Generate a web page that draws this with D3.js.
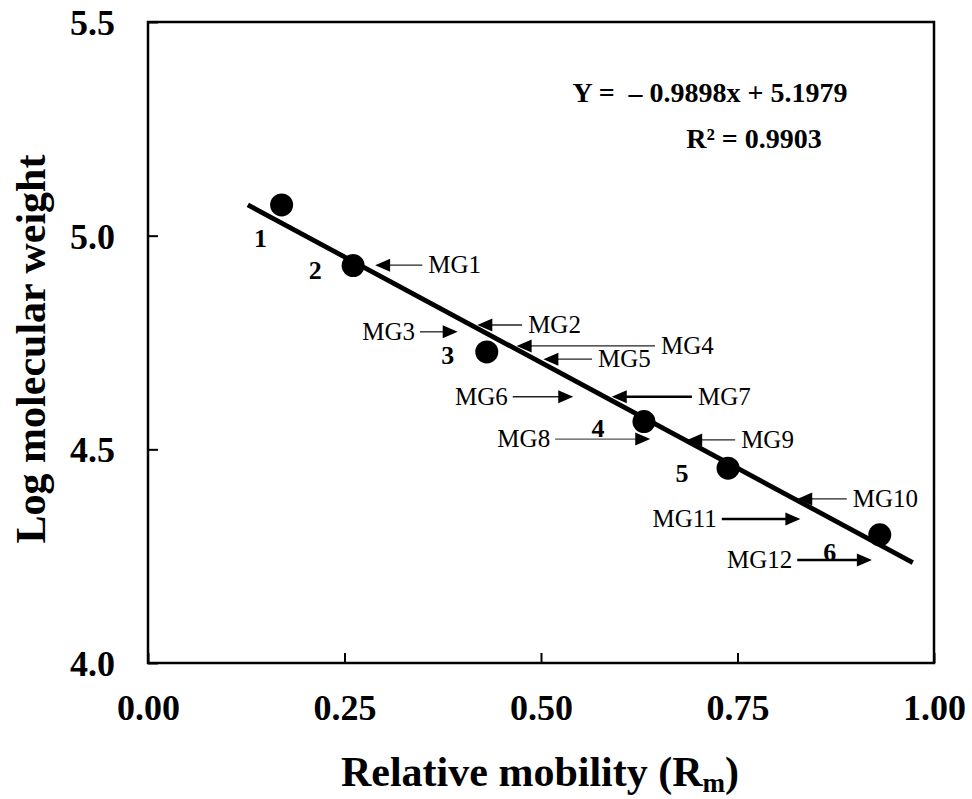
<!DOCTYPE html>
<html>
<head>
<meta charset="utf-8">
<script src="https://cdn.jsdelivr.net/npm/d3@7"></script>
<style>
  html, body { margin: 0; padding: 0; background: #fff; }
  svg { display: block; font-family: "Liberation Serif", "Times New Roman", serif; }
</style>
</head>
<body>
<svg id="chart" width="972" height="799"></svg>
<script>
// ---- data ----
const standardIds = ["1", "2", "3", "4", "5", "6"];
const standardRm = [0.17, 0.261, 0.431, 0.631, 0.738, 0.931];
const standardLogMW = [5.072, 4.930, 4.728, 4.565, 4.456, 4.300];

const fitLineRm = [0.127, 0.973];
const fitLineLogMW = [5.072, 4.235];
const equationText = "Y =  \u2013 0.9898x + 5.1979";
const r2Text = "R\u00B2 = 0.9903";

const mgLabels = ["MG1", "MG2", "MG3", "MG4", "MG5", "MG6", "MG7", "MG8", "MG9", "MG10", "MG11", "MG12"];
const mgTipRm = [0.289, 0.419, 0.394, 0.469, 0.503, 0.541, 0.590, 0.639, 0.686, 0.826, 0.830, 0.921];
const mgTailRm = [0.349, 0.476, 0.346, 0.645, 0.565, 0.464, 0.692, 0.518, 0.747, 0.889, 0.730, 0.826];
const mgLogMW = [4.931, 4.791, 4.775, 4.742, 4.711, 4.623, 4.623, 4.524, 4.522, 4.384, 4.337, 4.241];

const xTicks = [0.00, 0.25, 0.50, 0.75, 1.00];
const yTicks = [4.0, 4.5, 5.0, 5.5];

// ---- layout ----
const svg = d3.select("#chart");
const L = 148, R = 934, T = 22, B = 663;
const x = d3.scaleLinear().domain([0, 1]).range([L, R]);
const y = d3.scaleLinear().domain([4.0, 5.5]).range([B, T]);

// styling (kept out of data)
const thickArrows = new Set(["MG7", "MG11", "MG12"]);
const labelOffsets = [[-21, 33], [-38, 4], [-39, 3], [-46, 6], [-46, 5], [-50, 17]];

// axes (ticks pointing inward)
const xAxis = svg.append("g").attr("transform", `translate(0,${B})`)
  .call(d3.axisBottom(x).tickValues(xTicks).tickSizeInner(-10).tickSizeOuter(0).tickFormat(d3.format(".2f")));
xAxis.select(".domain").remove();
xAxis.selectAll(".tick line").attr("stroke", "#000").attr("stroke-width", 2);
xAxis.selectAll(".tick text")
  .attr("y", 57).attr("dy", 0)
  .attr("font-family", "Liberation Serif, serif")
  .attr("font-size", 36).attr("font-weight", "bold").attr("fill", "#000");

const yAxis = svg.append("g").attr("transform", `translate(${L},0)`)
  .call(d3.axisLeft(y).tickValues(yTicks).tickSizeInner(-10).tickSizeOuter(0).tickFormat(d3.format(".1f")));
yAxis.select(".domain").remove();
yAxis.selectAll(".tick line").attr("stroke", "#000").attr("stroke-width", 2);
yAxis.selectAll(".tick text")
  .attr("x", -33).attr("dy", "0.35em")
  .attr("font-family", "Liberation Serif, serif")
  .attr("font-size", 36).attr("font-weight", "bold").attr("fill", "#000");

// frame
svg.append("rect")
  .attr("x", L).attr("y", T).attr("width", R - L).attr("height", B - T)
  .attr("fill", "none").attr("stroke", "#000").attr("stroke-width", 2.5);

// regression line
const fitPts = fitLineRm.map((v, i) => [v, fitLineLogMW[i]]);
svg.append("path")
  .datum(fitPts)
  .attr("d", d3.line().x(d => x(d[0])).y(d => y(d[1])))
  .attr("fill", "none").attr("stroke", "#000").attr("stroke-width", 4.8);

// standards
const std = standardIds.map((id, i) => ({ id, rm: standardRm[i], mw: standardLogMW[i], off: labelOffsets[i] }));
svg.append("g").selectAll("circle").data(std).join("circle")
  .attr("cx", d => x(d.rm)).attr("cy", d => y(d.mw)).attr("r", 11.5).attr("fill", "#000");
svg.append("g").selectAll("text").data(std).join("text")
  .attr("x", d => x(d.rm) + d.off[0]).attr("y", d => y(d.mw) + d.off[1])
  .attr("dy", "0.35em").attr("text-anchor", "middle")
  .attr("font-size", 26).attr("font-weight", "bold").text(d => d.id);

// MG arrows
const mg = mgLabels.map((lab, i) => ({ lab, tip: mgTipRm[i], tail: mgTailRm[i], mw: mgLogMW[i] }));
const mgG = svg.append("g");
mg.forEach(d => {
  const tx = x(d.tip), sx = x(d.tail), yy = y(d.mw);
  const dir = tx < sx ? -1 : 1; // -1: points left
  const thick = thickArrows.has(d.lab);
  const headLen = 15, headHalf = 6.5;
  mgG.append("line")
    .attr("x1", sx).attr("y1", yy).attr("x2", tx - dir * headLen * 0.8).attr("y2", yy)
    .attr("stroke", thick ? "#000" : (d.lab === "MG8" ? "#555" : "#222"))
    .attr("stroke-width", thick ? 2.6 : 1.3);
  mgG.append("path")
    .attr("d", `M${tx},${yy} L${tx - dir * headLen},${yy - headHalf} L${tx - dir * headLen},${yy + headHalf} Z`)
    .attr("fill", "#000");
  mgG.append("text")
    .attr("x", dir < 0 ? sx + 6 : sx - 5)
    .attr("y", yy).attr("dy", "0.33em")
    .attr("text-anchor", dir < 0 ? "start" : "end")
    .attr("font-size", 25).text(d.lab);
});

// equation
svg.append("text").attr("x", 710).attr("y", 102).attr("text-anchor", "middle")
  .attr("font-size", 28).attr("font-weight", "bold").attr("xml:space", "preserve")
  .style("white-space", "pre").text(equationText);
svg.append("text").attr("x", 754).attr("y", 148).attr("text-anchor", "middle")
  .attr("font-size", 28).attr("font-weight", "bold").text(r2Text);

// axis titles
const xt = svg.append("text").attr("x", 540).attr("y", 786).attr("text-anchor", "middle")
  .attr("font-size", 42).attr("font-weight", "bold");
xt.append("tspan").text("Relative mobility (R");
xt.append("tspan").attr("font-size", 27).attr("dy", 6).text("m");
xt.append("tspan").attr("dy", -6).text(")");

svg.append("text").attr("transform", "translate(45,349) rotate(-90)")
  .attr("text-anchor", "middle").attr("font-size", 42).attr("font-weight", "bold")
  .text("Log molecular weight");
</script>
</body>
</html>
